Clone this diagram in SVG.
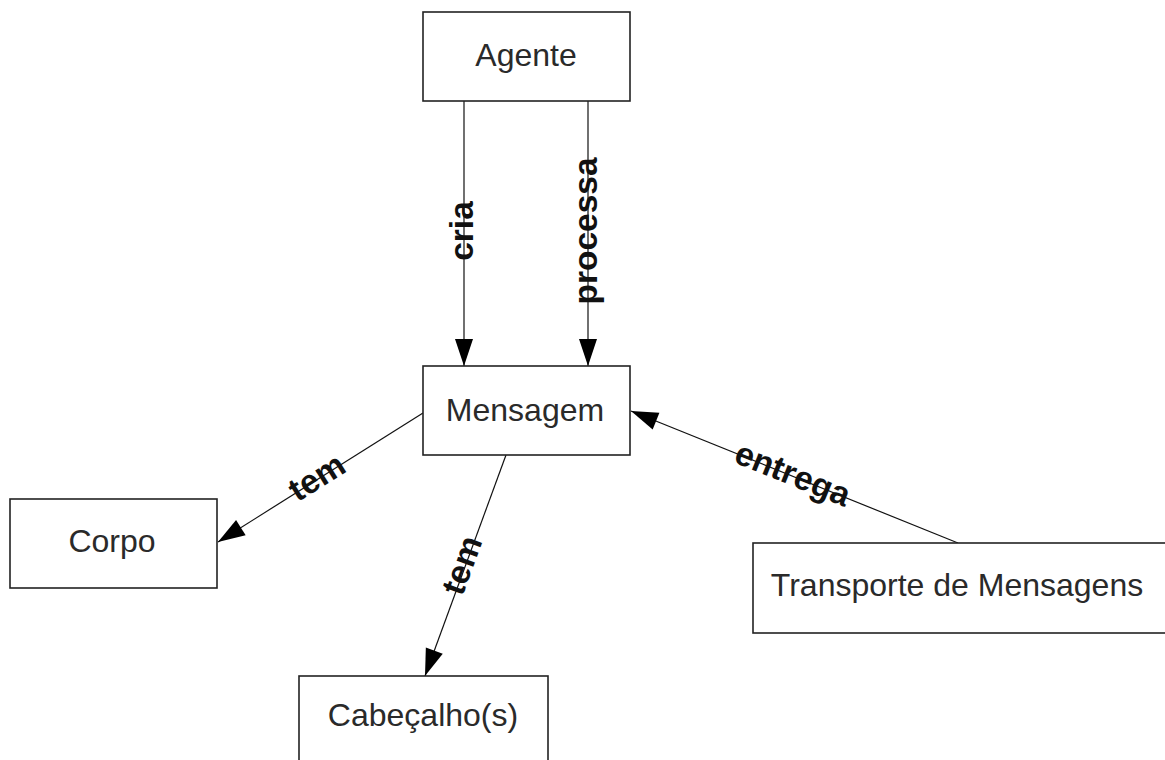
<svg xmlns="http://www.w3.org/2000/svg" width="1165" height="760" viewBox="0 0 1165 760">
<defs>
<style>
.box{fill:#fff;stroke:#222;stroke-width:1.6}
.nt{font-family:"Liberation Sans",Arial,sans-serif;font-size:32px;fill:#2a2a2a;text-anchor:middle}
.edge{stroke:#111;stroke-width:1.2;fill:none}
.lbl{font-family:"Liberation Sans",Arial,sans-serif;font-size:33.5px;font-weight:bold;fill:#111;text-anchor:middle}
</style>
<marker id="arr" markerUnits="userSpaceOnUse" markerWidth="30" markerHeight="20" viewBox="-28 -10 30 20" refX="0" refY="0" orient="auto">
<path d="M0,0 L-27,-9 L-27,9 Z" fill="#000"/>
</marker>
</defs>
<rect width="1165" height="760" fill="#fff"/>
<g id="connectors">
<line class="edge" x1="464" y1="101" x2="464" y2="366" marker-end="url(#arr)"/>
<line class="edge" x1="588" y1="101" x2="588" y2="366" marker-end="url(#arr)"/>
<line class="edge" x1="423" y1="413" x2="218" y2="542" marker-end="url(#arr)"/>
<line class="edge" x1="506" y1="455" x2="425" y2="676" marker-end="url(#arr)"/>
<line class="edge" x1="958" y1="543" x2="631" y2="411" marker-end="url(#arr)"/>
</g>
<g id="labels">
<text class="lbl" transform="translate(464,231) rotate(-90)" dy="0.27em">cria</text>
<text class="lbl" transform="translate(588,231) rotate(-90)" dy="0.27em">processa</text>
<text class="lbl" transform="translate(318,479) rotate(-32.2)" dy="0.27em">tem</text>
<text class="lbl" transform="translate(464,566) rotate(-69.9)" dy="0.27em">tem</text>
<text class="lbl" transform="translate(792,476) rotate(22)" dy="0.27em">entrega</text>
</g>
<g id="agente">
<rect class="box" x="423" y="12" width="207" height="89"/>
<text class="nt" x="526" y="66">Agente</text>
</g>
<g id="mensagem">
<rect class="box" x="423" y="366" width="207" height="89"/>
<text class="nt" x="525" y="421">Mensagem</text>
</g>
<g id="corpo">
<rect class="box" x="10" y="499" width="207" height="89"/>
<text class="nt" x="112" y="552">Corpo</text>
</g>
<g id="cabecalho">
<rect class="box" x="299" y="676" width="249" height="100"/>
<text class="nt" x="423" y="726">Cabeçalho(s)</text>
</g>
<g id="transporte">
<rect class="box" x="753" y="543" width="430" height="90"/>
<text class="nt" x="957" y="596">Transporte de Mensagens</text>
</g>
</svg>
